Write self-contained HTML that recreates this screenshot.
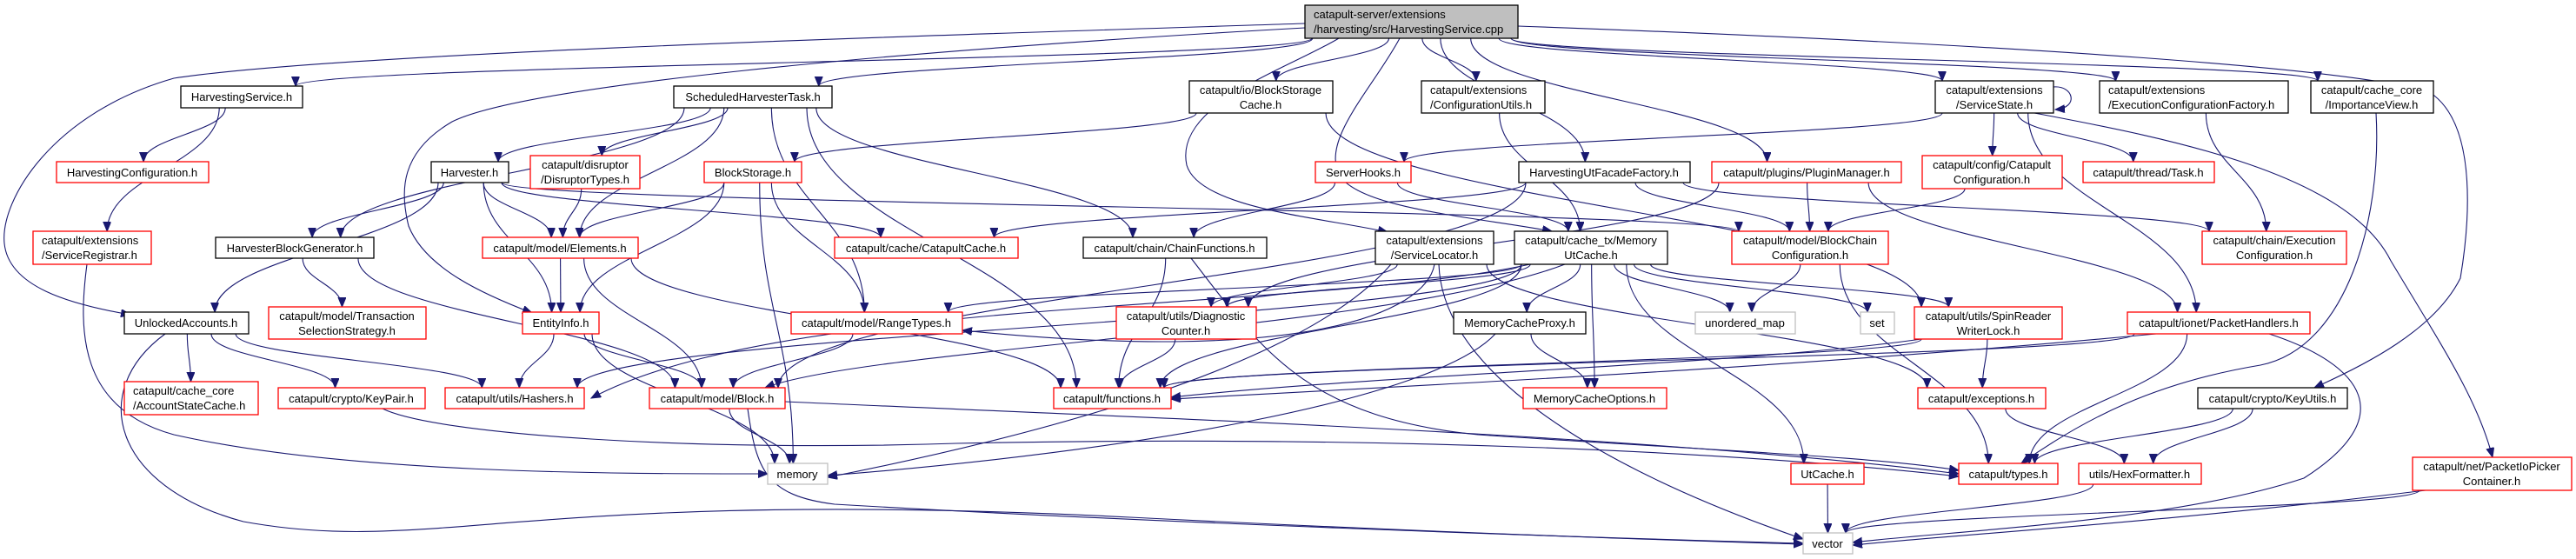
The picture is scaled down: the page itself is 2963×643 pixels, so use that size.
<!DOCTYPE html>
<html><head><meta charset="utf-8"><style>
html,body{margin:0;padding:0;background:#fff;}
svg{display:block;}
text{font-family:"Liberation Sans",Helvetica,Arial,sans-serif;font-size:13px;fill:#000;}
</style></head><body>
<svg id="g" width="2963" height="643" viewBox="0 0 2963 643" xmlns="http://www.w3.org/2000/svg">
<defs><marker id="a" markerUnits="userSpaceOnUse" markerWidth="12" markerHeight="10" refX="11" refY="4.5" orient="auto"><path d="M0,0 L11,4.5 L0,9 z" fill="#191970" stroke="#191970"/></marker></defs>
<g id="edges" fill="none" stroke="#191970" stroke-width="1.1"></g>
<g id="nodes" stroke-width="1.3">
<rect x="1501" y="6" width="245" height="38" fill="#bfbfbf" stroke="#000"/><text x="1511" y="21">catapult-server/extensions</text><text x="1511" y="38">/harvesting/src/HarvestingService.cpp</text>
<rect x="208" y="99" width="140" height="25" fill="#fff" stroke="#000"/><text x="278" y="116" text-anchor="middle">HarvestingService.h</text>
<rect x="775" y="99" width="182" height="25" fill="#fff" stroke="#000"/><text x="866" y="116" text-anchor="middle">ScheduledHarvesterTask.h</text>
<rect x="1368" y="93" width="165" height="37" fill="#fff" stroke="#000"/><text x="1450" y="108" text-anchor="middle">catapult/io/BlockStorage</text><text x="1450" y="125" text-anchor="middle">Cache.h</text>
<rect x="1635" y="93" width="142" height="37" fill="#fff" stroke="#000"/><text x="1645" y="108">catapult/extensions</text><text x="1645" y="125">/ConfigurationUtils.h</text>
<rect x="2226" y="93" width="136" height="37" fill="#fff" stroke="#000"/><text x="2294" y="108" text-anchor="middle">catapult/extensions</text><text x="2294" y="125" text-anchor="middle">/ServiceState.h</text>
<rect x="2415" y="93" width="217" height="37" fill="#fff" stroke="#000"/><text x="2425" y="108">catapult/extensions</text><text x="2425" y="125">/ExecutionConfigurationFactory.h</text>
<rect x="2658" y="93" width="141" height="37" fill="#fff" stroke="#000"/><text x="2728" y="108" text-anchor="middle">catapult/cache_core</text><text x="2728" y="125" text-anchor="middle">/ImportanceView.h</text>
<rect x="65" y="186" width="175" height="24" fill="#fff" stroke="#f00"/><text x="152" y="203" text-anchor="middle">HarvestingConfiguration.h</text>
<rect x="496" y="186" width="89" height="24" fill="#fff" stroke="#000"/><text x="540" y="203" text-anchor="middle">Harvester.h</text>
<rect x="610" y="179" width="126" height="38" fill="#fff" stroke="#f00"/><text x="673" y="194" text-anchor="middle">catapult/disruptor</text><text x="673" y="211" text-anchor="middle">/DisruptorTypes.h</text>
<rect x="810" y="186" width="112" height="24" fill="#fff" stroke="#f00"/><text x="866" y="203" text-anchor="middle">BlockStorage.h</text>
<rect x="1513" y="186" width="110" height="24" fill="#fff" stroke="#f00"/><text x="1568" y="203" text-anchor="middle">ServerHooks.h</text>
<rect x="1747" y="186" width="197" height="24" fill="#fff" stroke="#000"/><text x="1845" y="203" text-anchor="middle">HarvestingUtFacadeFactory.h</text>
<rect x="1969" y="186" width="218" height="24" fill="#fff" stroke="#f00"/><text x="2078" y="203" text-anchor="middle">catapult/plugins/PluginManager.h</text>
<rect x="2211" y="179" width="161" height="38" fill="#fff" stroke="#f00"/><text x="2291" y="194" text-anchor="middle">catapult/config/Catapult</text><text x="2291" y="211" text-anchor="middle">Configuration.h</text>
<rect x="2396" y="186" width="151" height="24" fill="#fff" stroke="#f00"/><text x="2471" y="203" text-anchor="middle">catapult/thread/Task.h</text>
<rect x="38" y="266" width="136" height="38" fill="#fff" stroke="#f00"/><text x="48" y="281">catapult/extensions</text><text x="48" y="298">/ServiceRegistrar.h</text>
<rect x="248" y="273" width="182" height="24" fill="#fff" stroke="#000"/><text x="339" y="290" text-anchor="middle">HarvesterBlockGenerator.h</text>
<rect x="555" y="273" width="179" height="24" fill="#fff" stroke="#f00"/><text x="644" y="290" text-anchor="middle">catapult/model/Elements.h</text>
<rect x="960" y="273" width="211" height="24" fill="#fff" stroke="#f00"/><text x="1065" y="290" text-anchor="middle">catapult/cache/CatapultCache.h</text>
<rect x="1246" y="273" width="211" height="24" fill="#fff" stroke="#000"/><text x="1351" y="290" text-anchor="middle">catapult/chain/ChainFunctions.h</text>
<rect x="1582" y="266" width="136" height="38" fill="#fff" stroke="#000"/><text x="1650" y="281" text-anchor="middle">catapult/extensions</text><text x="1650" y="298" text-anchor="middle">/ServiceLocator.h</text>
<rect x="1742" y="266" width="176" height="38" fill="#fff" stroke="#000"/><text x="1830" y="281" text-anchor="middle">catapult/cache_tx/Memory</text><text x="1830" y="298" text-anchor="middle">UtCache.h</text>
<rect x="1992" y="266" width="180" height="38" fill="#fff" stroke="#f00"/><text x="2082" y="281" text-anchor="middle">catapult/model/BlockChain</text><text x="2082" y="298" text-anchor="middle">Configuration.h</text>
<rect x="2533" y="266" width="166" height="38" fill="#fff" stroke="#f00"/><text x="2616" y="281" text-anchor="middle">catapult/chain/Execution</text><text x="2616" y="298" text-anchor="middle">Configuration.h</text>
<rect x="143" y="359" width="143" height="25" fill="#fff" stroke="#000"/><text x="214" y="376" text-anchor="middle">UnlockedAccounts.h</text>
<rect x="309" y="353" width="181" height="37" fill="#fff" stroke="#f00"/><text x="399" y="368" text-anchor="middle">catapult/model/Transaction</text><text x="399" y="385" text-anchor="middle">SelectionStrategy.h</text>
<rect x="601" y="359" width="88" height="25" fill="#fff" stroke="#f00"/><text x="645" y="376" text-anchor="middle">EntityInfo.h</text>
<rect x="910" y="359" width="197" height="25" fill="#fff" stroke="#f00"/><text x="1008" y="376" text-anchor="middle">catapult/model/RangeTypes.h</text>
<rect x="1284" y="353" width="161" height="37" fill="#fff" stroke="#f00"/><text x="1364" y="368" text-anchor="middle">catapult/utils/Diagnostic</text><text x="1364" y="385" text-anchor="middle">Counter.h</text>
<rect x="1672" y="359" width="152" height="25" fill="#fff" stroke="#000"/><text x="1748" y="376" text-anchor="middle">MemoryCacheProxy.h</text>
<rect x="1950" y="359" width="115" height="25" fill="#fff" stroke="#bfbfbf"/><text x="2007" y="376" text-anchor="middle">unordered_map</text>
<rect x="2140" y="359" width="39" height="25" fill="#fff" stroke="#bfbfbf"/><text x="2159" y="376" text-anchor="middle">set</text>
<rect x="2202" y="353" width="170" height="37" fill="#fff" stroke="#f00"/><text x="2287" y="368" text-anchor="middle">catapult/utils/SpinReader</text><text x="2287" y="385" text-anchor="middle">WriterLock.h</text>
<rect x="2447" y="359" width="210" height="25" fill="#fff" stroke="#f00"/><text x="2552" y="376" text-anchor="middle">catapult/ionet/PacketHandlers.h</text>
<rect x="143" y="439" width="154" height="38" fill="#fff" stroke="#f00"/><text x="153" y="454">catapult/cache_core</text><text x="153" y="471">/AccountStateCache.h</text>
<rect x="320" y="446" width="169" height="24" fill="#fff" stroke="#f00"/><text x="404" y="463" text-anchor="middle">catapult/crypto/KeyPair.h</text>
<rect x="512" y="446" width="160" height="24" fill="#fff" stroke="#f00"/><text x="592" y="463" text-anchor="middle">catapult/utils/Hashers.h</text>
<rect x="747" y="446" width="156" height="24" fill="#fff" stroke="#f00"/><text x="825" y="463" text-anchor="middle">catapult/model/Block.h</text>
<rect x="1212" y="446" width="135" height="24" fill="#fff" stroke="#f00"/><text x="1279" y="463" text-anchor="middle">catapult/functions.h</text>
<rect x="1752" y="446" width="165" height="24" fill="#fff" stroke="#f00"/><text x="1834" y="463" text-anchor="middle">MemoryCacheOptions.h</text>
<rect x="2206" y="446" width="147" height="24" fill="#fff" stroke="#f00"/><text x="2279" y="463" text-anchor="middle">catapult/exceptions.h</text>
<rect x="2528" y="446" width="172" height="24" fill="#fff" stroke="#000"/><text x="2614" y="463" text-anchor="middle">catapult/crypto/KeyUtils.h</text>
<rect x="883" y="533" width="69" height="24" fill="#fff" stroke="#bfbfbf"/><text x="917" y="550" text-anchor="middle">memory</text>
<rect x="2060" y="533" width="84" height="24" fill="#fff" stroke="#f00"/><text x="2102" y="550" text-anchor="middle">UtCache.h</text>
<rect x="2253" y="533" width="114" height="24" fill="#fff" stroke="#f00"/><text x="2310" y="550" text-anchor="middle">catapult/types.h</text>
<rect x="2391" y="533" width="141" height="24" fill="#fff" stroke="#f00"/><text x="2461" y="550" text-anchor="middle">utils/HexFormatter.h</text>
<rect x="2775" y="526" width="183" height="38" fill="#fff" stroke="#f00"/><text x="2866" y="541" text-anchor="middle">catapult/net/PacketIoPicker</text><text x="2866" y="558" text-anchor="middle">Container.h</text>
<rect x="2074" y="613" width="57" height="24" fill="#fff" stroke="#bfbfbf"/><text x="2102" y="630" text-anchor="middle">vector</text>
</g>
</svg>
<script>
var N={root:[1501,6,1746,44],HS:[208,99,348,124],SHT:[775,99,957,124],BSC:[1368,93,1533,130],CU:[1635,93,1777,130],SS:[2226,93,2362,130],ECF:[2415,93,2632,130],IV:[2658,93,2799,130],
HC:[65,186,240,210],HV:[496,186,585,210],DT:[610,179,736,217],BS:[810,186,922,210],SH:[1513,186,1623,210],HUF:[1747,186,1944,210],PM:[1969,186,2187,210],CC:[2211,179,2372,217],TK:[2396,186,2547,210],
SR:[38,266,174,304],HBG:[248,273,430,297],EL:[555,273,734,297],CAC:[960,273,1171,297],CF:[1246,273,1457,297],SL:[1582,266,1718,304],MUC:[1742,266,1918,304],BCC:[1992,266,2172,304],EC:[2533,266,2699,304],
UA:[143,359,286,384],TSS:[309,353,490,390],EI:[601,359,689,384],RT:[910,359,1107,384],DC:[1284,353,1445,390],MCP:[1672,359,1824,384],UM:[1950,359,2065,384],SET:[2140,359,2179,384],SRW:[2202,353,2372,390],PH:[2447,359,2657,384],
ASC:[143,439,297,477],KP:[320,446,489,470],HA:[512,446,672,470],BL:[747,446,903,470],FN:[1212,446,1347,470],MCO:[1752,446,1917,470],EX:[2206,446,2353,470],KU:[2528,446,2700,470],
MEM:[883,533,952,557],UTC:[2060,533,2144,557],TY:[2253,533,2367,557],HF:[2391,533,2532,557],PIC:[2775,526,2958,564],VEC:[2074,613,2131,637]};
var E=[["root","HS"],["root","SHT"],["root","BSC"],["root","CU"],["root","HUF"],["root","PM"],["root","SS"],["root","ECF"],["root","IV"],
["SHT","HV"],["SHT","DT"],["SHT","HBG"],["SHT","EL"],["SHT","RT"],["SHT","FN"],["SHT","CF"],
["HS","HC"],["HS","SR"],["HV","HBG"],["HV","UA"],["HV","EI"],["HV","EL"],["HV","CAC"],["HV","BCC"],["DT","EL"],
["BS","EL"],["BS","EI"],["BS","RT"],["BS","MEM"],["BSC","BS"],["BSC","SRW"],["CU","MUC"],["HBG","TSS"],["HBG","BL"],
["EL","EI"],["EL","BL"],["EL","FN"],["UA","ASC"],["UA","KP"],["UA","HA"],["EI","HA"],["EI","BL"],["EI","MEM"],["RT","BL"],["BL","MEM"],
["CF","FN"],["DC","FN"],["SH","CF"],["SH","MUC"],["HUF","CAC"],["HUF","BCC"],["HUF","BL"],["HUF","EC"],["PM","BCC"],["PM","DC"],["PM","PH"],
["SL","DC"],["SL","EX"],["MUC","MCP"],["MUC","MCO"],["MUC","UM"],["MUC","SET"],["MUC","SRW"],["MUC","UTC"],["MUC","DC"],["MUC","RT"],["MUC","HA"],["MUC","FN"],
["MCP","MCO"],["BCC","UM"],["BCC","TY"],["SS","SH"],["SS","CC"],["SS","TK"],["SS","PH"],["CC","BCC"],["ECF","EC"],["SRW","EX"],["SRW","FN"],
["PH","FN"],["PH","TY"],["EX","HF"],["KU","TY"],["KU","HF"],["HF","VEC"],["UTC","VEC"],["PIC","VEC"]];
var P=["M1501,27 C1100,40 400,60 200,90 C60,130 0,230 5,280 C10,330 80,350 150,362",
"M1501,32 C1000,60 600,100 520,140 C460,175 460,220 470,260 C490,310 560,340 612,360",
"M1746,30 C2300,50 2750,80 2800,110 C2850,150 2840,260 2830,320 C2800,380 2720,420 2662,446",
"M1540,44 C1480,80 1350,120 1365,190 C1380,240 1520,250 1596,267",
"M1610,44 C1580,100 1520,160 1540,200 C1560,240 1700,250 1785,266",
"M190,384 C100,450 130,560 280,600 C500,640 600,560 1300,595 C1700,615 1950,622 2074,626",
"M100,304 C90,380 90,470 200,500 C400,545 700,545 883,545",
"M860,470 C870,540 880,570 960,580 C1300,600 1800,618 2074,625",
"M903,462 C1300,480 1900,500 2253,545",
"M440,470 C500,500 800,520 1100,510 C1600,500 2000,520 2253,548",
"M2362,100 C2385,98 2392,124 2364,126",
"M2340,130 C2500,160 2700,200 2750,300 C2810,400 2850,460 2867,526",
"M2733,130 C2740,250 2700,400 2600,420 C2480,440 2400,480 2325,533",
"M1370,297 C1450,400 1500,480 1700,500 C2000,520 2150,525 2253,541",
"M1720,384 C1650,460 1300,520 952,547",
"M1600,304 C1500,420 1200,500 952,549",
"M1655,304 C1660,450 1900,560 2074,620",
"M1760,304 C1500,360 900,340 680,458",
"M1800,304 C1600,380 1000,400 880,446",
"M2210,390 C2000,420 1600,430 1347,457",
"M2480,384 C2100,420 1700,440 1347,459",
"M2610,384 C2720,420 2760,480 2650,550 C2500,600 2250,610 2131,624",
"M2790,564 C2500,600 2250,615 2131,627",
"M1650,304 C1640,360 1500,420 1107,380"];
var g=document.getElementById("edges"),ns="http://www.w3.org/2000/svg";
function add(d){var p=document.createElementNS(ns,"path");p.setAttribute("d",d);p.setAttribute("marker-end","url(#a)");g.appendChild(p);}
E.forEach(function(e){var s=N[e[0]],t=N[e[1]];var scx=(s[0]+s[2])/2,tcx=(t[0]+t[2])/2;
if(t[1]>s[3]+4){var sx=scx+(tcx-scx)*0.15;sx=Math.max(s[0]+8,Math.min(s[2]-8,sx));var tx=tcx+(scx-tcx)*0.1;tx=Math.max(t[0]+8,Math.min(t[2]-8,tx));
var dy=t[1]-s[3];add("M"+sx+","+s[3]+" C"+sx+","+(s[3]+dy*0.45)+" "+tx+","+(t[1]-dy*0.45)+" "+tx+","+t[1]);}
else{var y1=(s[1]+s[3])/2,y2=(t[1]+t[3])/2;var sx2,tx2;if(tcx>scx){sx2=s[2];tx2=t[0];}else{sx2=s[0];tx2=t[2];}
add("M"+sx2+","+y1+" C"+(sx2+tx2)/2+","+y1+" "+(sx2+tx2)/2+","+y2+" "+tx2+","+y2);}});
P.forEach(add);
</script>
</body></html>
